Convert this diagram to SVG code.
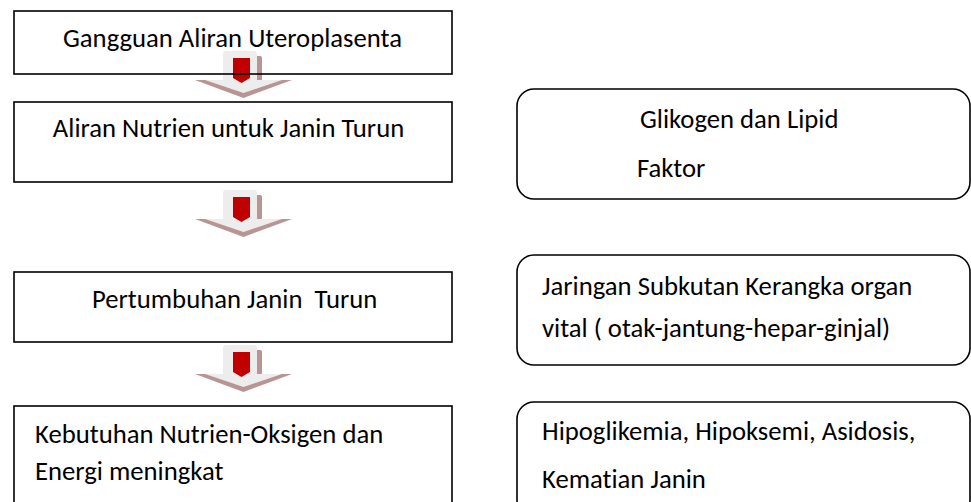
<svg xmlns="http://www.w3.org/2000/svg" width="971" height="502" viewBox="0 0 971 502">
<defs>
<style>
.box{fill:none;stroke:#000;stroke-width:1.6}
.rbox{fill:none;stroke:#000;stroke-width:1.6}
.t{font-family:Carlito,Lato,"Liberation Sans",sans-serif;font-size:26.7px;fill:#000;font-variant-ligatures:none;font-feature-settings:"liga" 0}
.sh{fill:#b99494}
.lg{fill:#ededed}
.rd{fill:#c00000}
</style>
<g id="arrow">
<polygon class="sh" points="195,29 292,29 243.5,47"/>
<rect class="sh" x="252" y="5" width="10" height="25" rx="2"/>
<rect class="lg" x="223" y="0" width="34" height="31" rx="3"/>
<polygon class="lg" points="205,29 282,29 243.5,42"/>
<polygon class="rd" points="233,7 250,7 250,27 241.5,32 233,27"/>
</g>
</defs>
<rect width="971" height="502" fill="#fff"/>
<g id="connectors">
<use href="#arrow" y="51"/>
<use href="#arrow" y="190"/>
<use href="#arrow" y="345"/>
</g>
<g id="n1">
<rect class="box" x="14" y="11" width="438" height="63"/>
<text class="t" x="232.5" y="47" text-anchor="middle">Gangguan Aliran Uteroplasenta</text>
</g>
<g id="n2">
<rect class="box" x="14" y="102" width="438" height="80"/>
<text class="t" x="228.5" y="137" text-anchor="middle">Aliran Nutrien untuk Janin Turun</text>
</g>
<g id="n3">
<rect class="box" x="14" y="272" width="438" height="70"/>
<text class="t" x="92" y="308" xml:space="preserve">Pertumbuhan Janin  Turun</text>
</g>
<g id="n4">
<rect class="box" x="14" y="406" width="438" height="100"/>
<text class="t" x="35" y="443">Kebutuhan Nutrien-Oksigen dan</text>
<text class="t" x="35" y="480">Energi meningkat</text>
</g>
<g id="r1">
<rect class="rbox" x="517" y="89" width="453" height="110" rx="17"/>
<text class="t" x="640" y="128">Glikogen dan Lipid</text>
<text class="t" x="637" y="177">Faktor</text>
</g>
<g id="r2">
<rect class="rbox" x="517" y="255" width="453" height="110" rx="17"/>
<text class="t" x="542" y="295">Jaringan Subkutan Kerangka organ</text>
<text class="t" x="542" y="337">vital ( otak-jantung-hepar-ginjal)</text>
</g>
<g id="r3">
<rect class="rbox" x="517" y="402" width="453" height="115" rx="17"/>
<text class="t" x="542" y="440">Hipoglikemia, Hipoksemi, Asidosis,</text>
<text class="t" x="542" y="488">Kematian Janin</text>
</g>
</svg>
